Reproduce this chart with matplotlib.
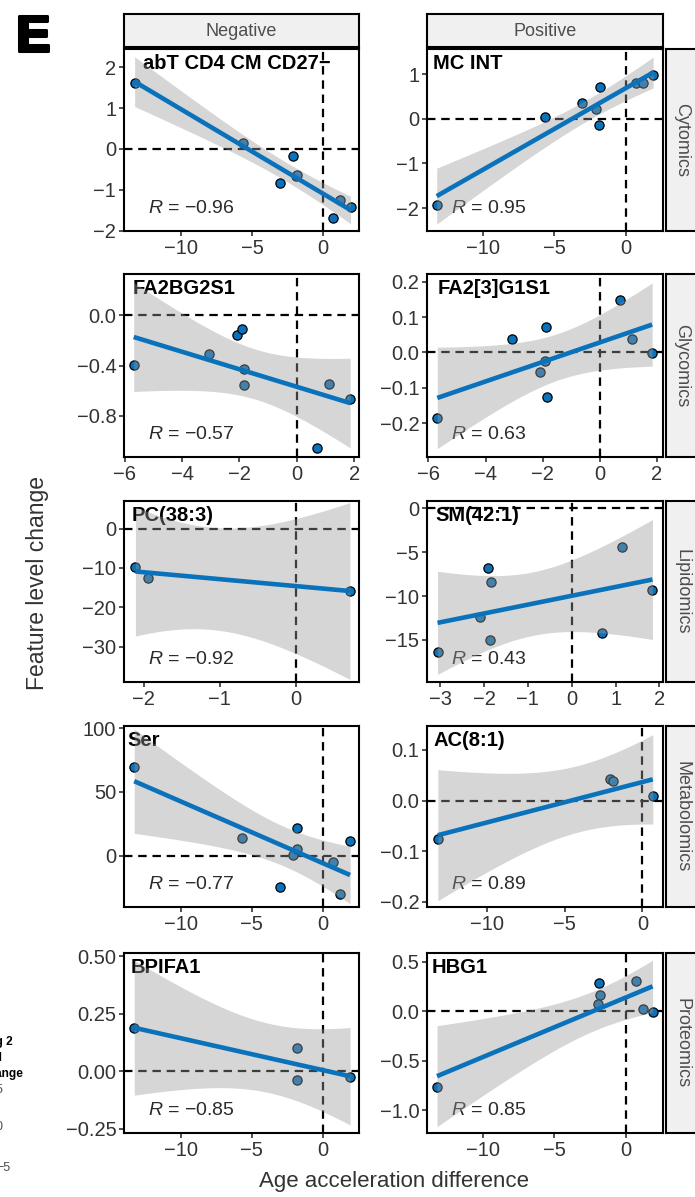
import numpy as np
import matplotlib
matplotlib.use("Agg")
import matplotlib.pyplot as plt
from matplotlib import patheffects
from matplotlib.ticker import FixedLocator, FuncFormatter

plt.rcParams["font.family"] = ["Liberation Sans", "DejaVu Sans"]
plt.rcParams["mathtext.fontset"] = "custom"
plt.rcParams["mathtext.it"] = "Liberation Sans:italic"
plt.rcParams["mathtext.rm"] = "Liberation Sans"

# ---- data ----
directions = ["Negative", "Positive"]
omics = ["Cytomics", "Glycomics", "Lipidomics", "Metabolomics", "Proteomics"]
features = ["abT CD4 CM CD27\u2212", "MC INT", "FA2BG2S1", "FA2[3]G1S1", "PC(38:3)",
            "SM(42:1)", "Ser", "AC(8:1)", "BPIFA1", "HBG1"]
r_values = [-0.96, 0.95, -0.57, 0.63, -0.92, 0.43, -0.77, 0.89, -0.85, 0.85]

cyto_neg_x = [-13.3, -5.65, -3.03, -2.09, -1.9, -1.85, 0.72, 1.2, 1.95]
cyto_neg_y = [1.61, 0.14, -0.84, -0.17, -0.66, -0.64, -1.68, -1.25, -1.41]
cyto_pos_x = [-13.22, -5.63, -3.03, -2.05, -1.82, -1.87, 0.7, 1.21, 1.91]
cyto_pos_y = [-1.93, 0.04, 0.36, 0.22, 0.71, -0.15, 0.8, 0.8, 0.97]

glyco_neg_x = [-5.69, -3.07, -2.09, -1.92, -1.85, -1.86, 0.70, 1.14, 1.86]
glyco_neg_y = [-0.396, -0.31, -0.16, -0.106, -0.43, -0.555, -1.06, -0.55, -0.67]
glyco_pos_x = [-5.69, -3.07, -2.1, -1.92, -1.87, -1.83, 0.70, 1.14, 1.84]
glyco_pos_y = [-0.186, 0.037, -0.056, -0.024, 0.071, -0.125, 0.147, 0.037, -0.001]

lipid_neg_x = [-2.11, -1.94, 0.71]
lipid_neg_y = [-9.7, -12.5, -15.8]
lipid_pos_x = [-3.06, -2.09, -1.91, -1.84, -1.86, 0.70, 1.15, 1.84]
lipid_pos_y = [-16.4, -12.4, -6.77, -8.36, -15.04, -14.2, -4.4, -9.35]

metab_neg_x = [-13.3, -5.67, -3.01, -2.07, -1.83, -1.83, 0.75, 1.22, 1.93]
metab_neg_y = [69.4, 13.9, -24.3, 0.5, 21.5, 5.2, -5.2, -30.3, 11.8]
metab_pos_x = [-13.2, -2.09, -1.87, 0.67]
metab_pos_y = [-0.076, 0.0415, 0.0395, 0.0099]

prot_neg_x = [-13.3, -1.79, -1.79, 1.93]
prot_neg_y = [0.188, 0.101, -0.039, -0.0246]
prot_pos_x = [-13.2, -1.84, -1.8, -1.94, 0.7, 1.17, 1.87]
prot_pos_y = [-0.765, 0.283, 0.162, 0.068, 0.303, 0.017, -0.007]

panel_x = [cyto_neg_x, cyto_pos_x, glyco_neg_x, glyco_pos_x, lipid_neg_x,
           lipid_pos_x, metab_neg_x, metab_pos_x, prot_neg_x, prot_pos_x]
panel_y = [cyto_neg_y, cyto_pos_y, glyco_neg_y, glyco_pos_y, lipid_neg_y,
           lipid_pos_y, metab_neg_y, metab_pos_y, prot_neg_y, prot_pos_y]

# legend that is cut off at the left edge of the figure
legend_title = ["Log 2", "fold", "change"]
legend_labels = ["5", "0", "-5"]

# axis scales per panel
x_limits = [(-14.05, 2.55), (-13.9, 2.6), (-6.03, 2.17), (-6.05, 2.22), (-2.26, 0.83),
            (-3.3, 2.08), (-14.02, 2.56), (-13.9, 1.33), (-14.02, 2.56), (-13.9, 2.6)]
y_limits = [(-2.01, 2.45), (-2.51, 1.56), (-1.13, 0.33), (-0.296, 0.222), (-39, 7),
            (-19.8, 0.83), (-40.3, 101.8), (-0.21, 0.147), (-0.269, 0.514), (-1.232, 0.588)]
x_ticks = [[-10, -5, 0], [-10, -5, 0], [-6, -4, -2, 0, 2], [-6, -4, -2, 0, 2], [-2, -1, 0],
           [-3, -2, -1, 0, 1, 2], [-10, -5, 0], [-10, -5, 0], [-10, -5, 0], [-10, -5, 0]]
y_ticks = [[-2, -1, 0, 1, 2], [-2, -1, 0, 1], [-0.8, -0.4, 0.0], [-0.2, -0.1, 0.0, 0.1, 0.2],
           [-30, -20, -10, 0], [-15, -10, -5, 0], [0, 50, 100], [-0.2, -0.1, 0.0, 0.1],
           [-0.25, 0.0, 0.25, 0.5], [-1.0, -0.5, 0.0, 0.5]]
y_fmt = ["{:.0f}", "{:.0f}", "{:.1f}", "{:.1f}", "{:.0f}", "{:.0f}", "{:.0f}", "{:.1f}",
         "{:.2f}", "{:.1f}"]

# layout (pixels)
W, H = 695, 1197
col_x = [(124, 359), (427, 663)]
row_y = [(49, 231), (274, 457), (501, 682), (726, 907), (953, 1133)]
title_dx = [19, 6, 9, 11, 8, 8, 3, 7, 7, 5]

BLUE = "#0a72bb"
T975 = {1: 12.706, 2: 4.303, 3: 3.182, 4: 2.776, 5: 2.571, 6: 2.447, 7: 2.365, 8: 2.306}


def px_box(x0, y0, x1, y1):
    return [x0 / W, 1 - y1 / H, (x1 - x0) / W, (y1 - y0) / H]


def lm_band(x, y, n_grid=100):
    # ordinary least squares fit with 95% confidence band (like geom_smooth(method="lm"))
    x = np.asarray(x, float)
    y = np.asarray(y, float)
    n = len(x)
    xm = x.mean()
    sxx = ((x - xm) ** 2).sum()
    slope = ((x - xm) * (y - y.mean())).sum() / sxx
    icpt = y.mean() - slope * xm
    resid = y - (icpt + slope * x)
    s = np.sqrt((resid ** 2).sum() / (n - 2))
    grid = np.linspace(x.min(), x.max(), n_grid)
    fit = icpt + slope * grid
    se = s * np.sqrt(1 / n + (grid - xm) ** 2 / sxx)
    t = T975[n - 2]
    return grid, fit, fit - t * se, fit + t * se


def minus(s):
    return s.replace("-", "\u2212")


fig = plt.figure(figsize=(W / 100, H / 100), dpi=100)

for i in range(10):
    r, c = divmod(i, 2)
    x0, x1 = col_x[c]
    y0, y1 = row_y[r]
    ax = fig.add_axes(px_box(x0, y0, x1, y1))
    xs, ys = panel_x[i], panel_y[i]

    ax.axhline(0, color="black", lw=1.6, ls=(0, (3.8, 2.6)), zorder=1)
    ax.axvline(0, color="black", lw=1.6, ls=(0, (3.8, 2.6)), zorder=1)
    ax.scatter(xs, ys, s=44, color=BLUE, edgecolor="black", linewidth=0.9, zorder=2)

    ph = 1 - 20 / (y1 - y0)
    ax.text(title_dx[i] / (x1 - x0), ph, features[i], transform=ax.transAxes,
            fontsize=14.5, fontweight="bold", color="black", ha="left", va="baseline",
            zorder=2)
    ax.text(24 / (x1 - x0), 18 / (y1 - y0), r"$R$ = " + minus(f"{r_values[i]:.2f}"),
            transform=ax.transAxes, fontsize=14, color="#2b2b2b", ha="left",
            va="baseline", zorder=2)

    grid, fit, lo, hi = lm_band(xs, ys)
    ax.fill_between(grid, lo, hi, color="#999999", alpha=0.4, linewidth=0, zorder=3)
    ax.plot(grid, fit, color=BLUE, lw=3.3, solid_capstyle="butt", zorder=4)

    ax.set_xlim(*x_limits[i])
    ax.set_ylim(*y_limits[i])
    ax.xaxis.set_major_locator(FixedLocator(x_ticks[i]))
    ax.yaxis.set_major_locator(FixedLocator(y_ticks[i]))
    ax.xaxis.set_major_formatter(FuncFormatter(lambda v, _: minus(f"{v:.0f}")))
    fmt = y_fmt[i]
    ax.yaxis.set_major_formatter(FuncFormatter(lambda v, _, f=fmt: minus(f.format(v))))
    ax.tick_params(direction="out", length=3.5, width=1.1, color="#222222",
                   labelsize=14.5, labelcolor="#333333", pad=2)
    for sp in ax.spines.values():
        sp.set_linewidth(1.5)
        sp.set_color("black")
        sp.set_zorder(5)

# facet strips
for c in range(2):
    x0, x1 = col_x[c]
    sax = fig.add_axes(px_box(x0, 14, x1, 47))
    sax.set_facecolor("#f0f0f0")
    sax.set_xticks([])
    sax.set_yticks([])
    for sp in sax.spines.values():
        sp.set_linewidth(1.5)
    sax.text(0.5, 0.47, directions[c], transform=sax.transAxes, ha="center", va="center",
             fontsize=13, color="#4d4d4d")

for r in range(5):
    y0, y1 = row_y[r]
    sax = fig.add_axes(px_box(666, y0, 700, y1))
    sax.set_facecolor("#f0f0f0")
    sax.set_xticks([])
    sax.set_yticks([])
    for sp in sax.spines.values():
        sp.set_linewidth(1.5)
    sax.text(0.47, 0.5, omics[r], transform=sax.transAxes, ha="center", va="center",
             rotation=-90, fontsize=13, color="#4d4d4d")

# axis titles
fig.text(393.5 / W, 1 - 1181 / H, "Age acceleration difference", ha="center", va="center",
         fontsize=16, color="#333333")
fig.text(38 / W, 1 - 583 / H, "Feature level change", ha="center", va="center",
         rotation=90, fontsize=16.5, color="#333333")

# panel letter
fig.text(16 / W, 1 - 51 / H, "E", ha="left", va="baseline", fontsize=37,
         fontweight="bold", color="black",
         path_effects=[patheffects.withStroke(linewidth=2.2, foreground="black")])

# legend remnants (the legend sits mostly outside the figure, as in the reference)
for lab, yy in zip(legend_title, [1045, 1061, 1077]):
    fig.text(-19 / W, 1 - yy / H, lab, ha="left", va="baseline", fontsize=8.6,
             fontweight="bold", color="black")
for lab, yy in zip(legend_labels, [1090, 1127, 1168]):
    fig.text(-4 / W, 1 - yy / H, minus(lab), ha="left", va="center", fontsize=9,
             color="#4d4d4d")

fig.savefig("out.png", dpi=100)
